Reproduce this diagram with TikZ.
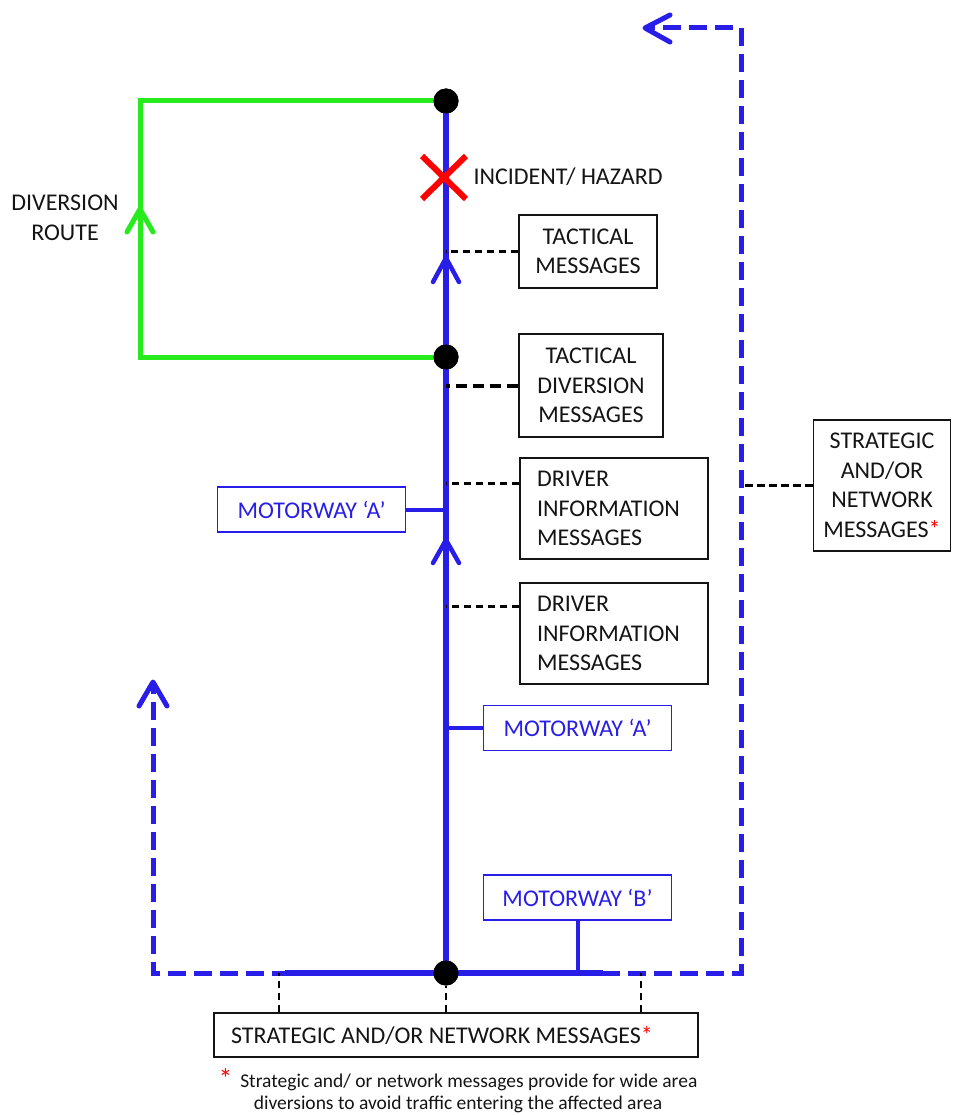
\documentclass[tikz,border=0pt]{standalone}
\usepackage{fontspec}
\setmainfont{Carlito}
\usetikzlibrary{calc}
\definecolor{rblue}{RGB}{40,30,232}
\definecolor{rgreen}{RGB}{40,235,30}
\definecolor{txt}{RGB}{20,20,20}
\begin{document}
\begin{tikzpicture}[x=1pt,y=1pt,
  box/.style={draw=txt,line width=1.4pt,inner sep=0pt,align=center,text=txt,
     font=\fontsize{24}{29.5}\selectfont},
  lbox/.style={box,align=left,inner xsep=17pt,text width=154pt},
  mbox/.style={draw=rblue,line width=1.1pt,inner sep=0pt,text=rblue,
     minimum width=188pt,minimum height=45pt,font=\fontsize{24}{29}\selectfont},
  conn/.style={draw=black,line width=2.1pt,dash pattern=on 7.5pt off 4.5pt},
  thickconn/.style={draw=black,line width=4pt,dash pattern=on 11pt off 6pt},
  road/.style={draw=rblue,line width=6pt},
  link/.style={draw=rblue,line width=4pt},
  green/.style={draw=rgreen,line width=5pt},
  bdash/.style={draw=rblue,line width=5pt,dash pattern=on 18pt off 8pt},
  chev/.style={line width=5pt,line cap=round,line join=round},
  dot/.style={circle,fill=black,inner sep=0pt,minimum size=25pt},
  lbl/.style={text=txt,align=center,font=\fontsize{24}{29.5}\selectfont}
]
\useasboundingbox (0,0) rectangle (952,-1115);

% coordinates
\coordinate (gtl) at (140,-101);
\coordinate (gbl) at (140,-357);
\coordinate (rb) at (741,-973);
\coordinate (rt) at (741,-28);
\coordinate (ra) at (645,-28);
\coordinate (lb) at (153,-973);
\coordinate (la) at (153,-683);
\coordinate (sl) at (285,-973);
\coordinate (sr) at (603,-973);

% dots (positions)
\node[dot] (dtop) at (446,-101) {};
\node[dot] (dmid) at (446,-357) {};
\node[dot] (dbot) at (446,-973) {};

% boxes
\node[box,minimum width=138pt,minimum height=73pt] (tm) at (588,-251.5) {TACTICAL\\MESSAGES};
\node[box,minimum width=144pt,minimum height=103pt] (tdm) at (591,-385.5) {TACTICAL\\DIVERSION\\MESSAGES};
\node[lbox,minimum height=101pt] (di1) at (614,-508.5) {DRIVER\\INFORMATION\\MESSAGES};
\node[lbox,minimum height=101pt] (di2) at (614,-633.5) {DRIVER\\INFORMATION\\MESSAGES};
\node[box,minimum width=137pt,minimum height=131pt] (srn) at (882,-485.5) {STRATEGIC\\AND/OR\\NETWORK\\MESSAGES{\color{red}*}};
\node[box,minimum width=484pt,minimum height=44pt] (sbm) at (456,-1035) {\makebox[450pt][l]{STRATEGIC AND/OR NETWORK MESSAGES{\color{red}*}}};
\node[mbox] (ma1) at (311.5,-509.5) {MOTORWAY ‘A’};
\node[mbox] (ma2) at (577.5,-728) {MOTORWAY ‘A’};
\node[mbox] (mb) at (577.5,-897.5) {MOTORWAY ‘B’};

% labels
\node[lbl,anchor=west] (inc) at (470,-177) {INCIDENT/ HAZARD};
\node[lbl] (dr) at (65,-218) {DIVERSION\\ROUTE};
\node[text=txt,align=center,inner sep=0pt,font=\fontsize{19.5}{22}\selectfont] (fn) at (458,-1093)
  {\smash{\color{red}\fontsize{28}{22}\selectfont\raisebox{-1pt}{*}}\, Strategic and/ or network messages provide for wide area\\diversions to avoid traffic entering the affected area};

% green diversion route
\draw[green,line join=miter] (dtop.center) -- (gtl) -- (gbl) -- (dmid.center);
\draw[chev,rgreen] (127,-232) -- (140,-209) -- (153,-232);

% blue dashed strategic routes
\draw[bdash] (dbot.center) -- (lb) -- (la);
\draw[chev,rblue] (139,-706) -- (153,-682) -- (167,-706);
\draw[bdash] (dbot.center) -- (rb) -- (rt) -- (ra);
\draw[chev,rblue] (670,-15) -- (645,-28) -- (670,-42);

% motorway
\draw[road] (sl) -- (sr);
\draw[road] (dtop.center) -- (dbot.center);
\draw[chev,rblue,line width=4.5pt] (433,-282) -- (446,-258) -- (459,-282);
\draw[chev,rblue,line width=4.5pt] (433,-563) -- (446,-540) -- (459,-563);
\draw[link] (ma1.east) -- (ma1.east -| dtop);
\draw[link] (ma2.west) -- (ma2.west -| dtop);
\draw[link] (mb.south) -- (mb.south |- dbot);

% incident X
\draw[red,line width=6pt] (422,-156) -- (466,-199) (422,-199) -- (466,-156);

% dashed message connectors
\draw[conn] (tm.west) -- (tm.west -| dtop);
\draw[thickconn] (tdm.west) -- (tdm.west -| dtop);
\draw[conn] ([yshift=25pt]di1.west) -- ([yshift=25pt]di1.west -| dtop);
\draw[conn] ([yshift=27pt]di2.west) -- ([yshift=27pt]di2.west -| dtop);
\draw[conn] (srn.west) -- (srn.west -| rt);
\draw[conn] (sbm.north -| dbot) -- (dbot);
\draw[conn] (sbm.north -| 279,0) -- (279,-973);
\draw[conn] (sbm.north -| 641,0) -- (641,-973);

% dots on top
\node[dot] at (dtop) {};
\node[dot] at (dmid) {};
\node[dot] at (dbot) {};
\end{tikzpicture}
\end{document}
